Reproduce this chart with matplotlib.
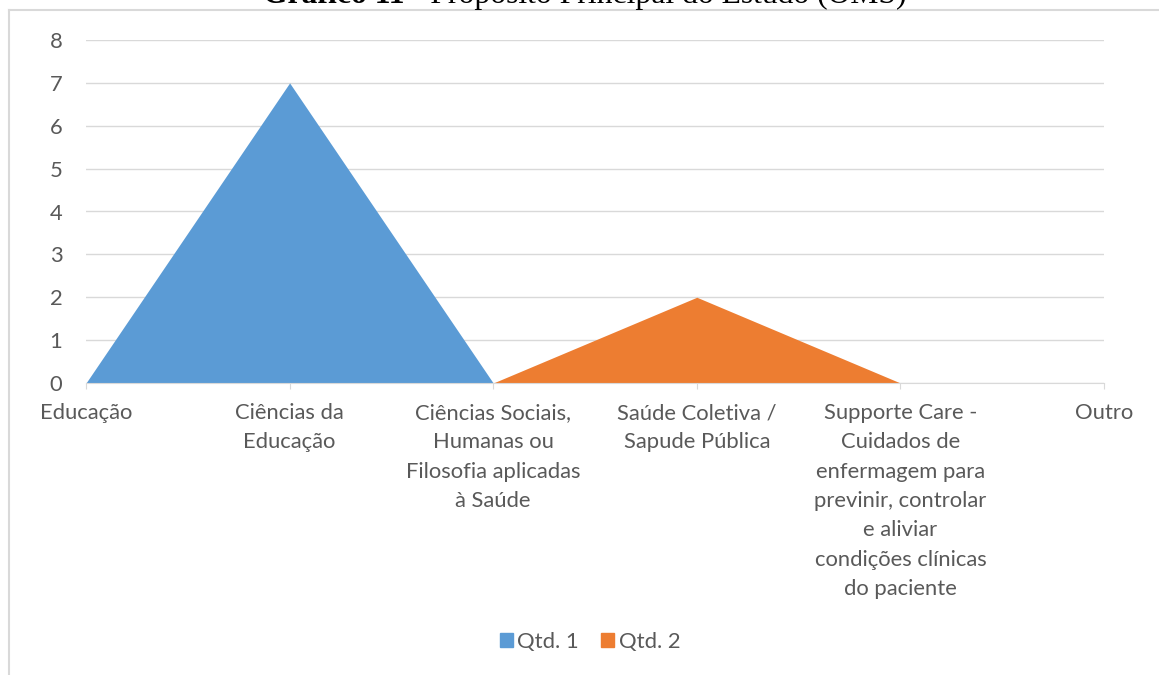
import numpy as np
import matplotlib
matplotlib.use('Agg')
import matplotlib.pyplot as plt
from matplotlib.patches import Patch
from matplotlib.lines import Line2D

categories = [
    'Educação',
    'Ciências da\nEducação',
    'Ciências Sociais,\nHumanas ou\nFilosofia aplicadas\nà Saúde',
    'Saúde Coletiva /\nSapude Pública',
    'Supporte Care -\nCuidados de\nenfermagem para\nprevinir, controlar\ne aliviar\ncondições clínicas\ndo paciente',
    'Outro',
]
qtd1 = [0, 7, 0, 0, 0, 0]
qtd2 = [0, 0, 0, 2, 0, 0]
series_names = ['Qtd. 1', 'Qtd. 2']
yticks = [0, 1, 2, 3, 4, 5, 6, 7, 8]
title_bold = 'Gráfico 11'
title_rest = ' - Propósito Principal do Estudo (OMS)'

BLUE = '#5b9bd5'
ORANGE = '#ed7d31'
GRAY_TXT = '#595959'
GRID = '#d9d9d9'
FS = 15.8

plt.rcParams['font.family'] = ['Lato', 'DejaVu Sans']

W, H = 1159, 675
fig = plt.figure(figsize=(W / 100, H / 100), dpi=100)
ax = fig.add_axes([86 / W, 1 - 383 / H, (1104 - 86) / W, (383 - 40) / H])

x = np.arange(len(categories))
ax.fill_between(x, 0, qtd1, color=BLUE, linewidth=0, label=series_names[0])
ax.fill_between(x, 0, qtd2, color=ORANGE, linewidth=0, label=series_names[1])

ax.set_xlim(x[0], x[-1])
ax.set_ylim(0, 8)
ax.set_yticks(yticks)
ax.set_yticklabels([str(v) for v in yticks], fontsize=FS, color=GRAY_TXT)
ax.set_xticks(x)
ax.set_xticklabels(categories, fontsize=FS, color=GRAY_TXT, linespacing=1.58)
ax.tick_params(axis='y', length=0, pad=17)
ax.tick_params(axis='x', length=4.5, color=GRID, pad=10)
ax.grid(axis='y', color=GRID, linewidth=1)
ax.set_axisbelow(True)
for s in ['top', 'right', 'left']:
    ax.spines[s].set_visible(False)
ax.spines['bottom'].set_color(GRID)

# chart border (only left and top edges fall inside the picture)
fig.add_artist(Line2D([9 / W, 9 / W], [0, 1 - 10 / H], transform=fig.transFigure, color=GRID, lw=1.5))
fig.add_artist(Line2D([9 / W, 1], [1 - 10 / H, 1 - 10 / H], transform=fig.transFigure, color=GRID, lw=1.5))

# title, cut off at the top as in the source
t1 = fig.text(263 / W, 1 - 3 / H, title_bold, fontsize=22.8, fontweight='bold',
              family='Liberation Serif', va='baseline', ha='left')
fig.canvas.draw()
bb = t1.get_window_extent()
fig.text(bb.x1 / W, 1 - 3 / H, title_rest, fontsize=22.8, family='Liberation Serif',
         va='baseline', ha='left')

handles = [Patch(color=BLUE), Patch(color=ORANGE)]
fig.legend(handles, series_names, loc='center', bbox_to_anchor=(590 / W, 1 - 642 / H),
           ncol=2, frameon=False, fontsize=FS, labelcolor=GRAY_TXT,
           handlelength=0.6, handleheight=0.6, handletextpad=0.2, columnspacing=1.0)

fig.savefig('out.png', dpi=100)
plt.close(fig)
